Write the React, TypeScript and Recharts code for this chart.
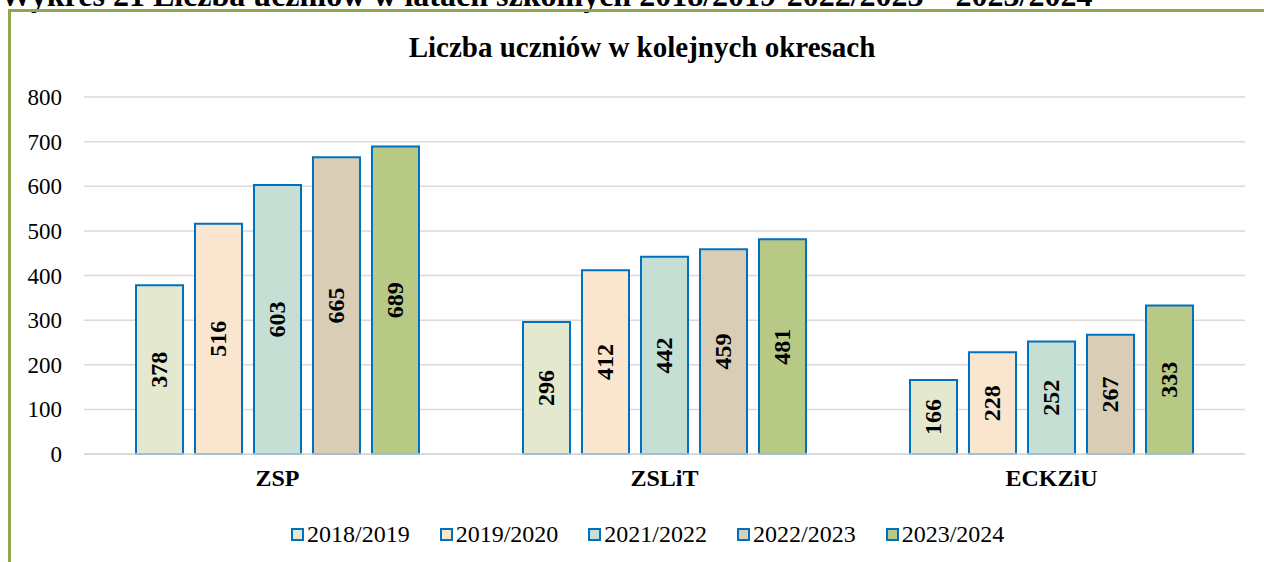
import React from 'react';
import { BarChart, Bar, XAxis, YAxis, CartesianGrid, Legend, LabelList } from 'recharts';

const schools = ['ZSP', 'ZSLiT', 'ECKZiU'];
const years = ['2018/2019', '2019/2020', '2021/2022', '2022/2023', '2023/2024'];
const students2018 = [378, 296, 166];
const students2019 = [516, 412, 228];
const students2021 = [603, 442, 252];
const students2022 = [665, 459, 267];
const students2023 = [689, 481, 333];
const yTicks = [0, 100, 200, 300, 400, 500, 600, 700, 800];

const seriesValues = [students2018, students2019, students2021, students2022, students2023];
const fills = ['#E3E8CF', '#FAE5CF', '#C5DFD5', '#DACDB6', '#B8C985'];
const stroke = '#0070C0';
const serif = 'Liberation Serif';

const data = schools.map((name, i) => {
  const row: Record<string, string | number> = { name };
  years.forEach((y, k) => {
    row[y] = seriesValues[k][i];
  });
  return row;
});

const RotatedLabel = (props: any) => {
  const { x, y, width, height, value } = props;
  const cx = x + width / 2;
  const cy = y + height / 2;
  return (
    <text
      x={cx}
      y={cy}
      transform={`rotate(-90 ${cx} ${cy})`}
      textAnchor="middle"
      dominantBaseline="central"
      style={{ fontFamily: serif, fontWeight: 'bold', fontSize: 24 }}
      fill="#000"
    >
      {value}
    </text>
  );
};

const XTick = (props: any) => {
  const { x, y, payload } = props;
  return (
    <text x={x} y={y + 17} textAnchor="middle" fill="#000" style={{ fontFamily: serif, fontWeight: 'bold', fontSize: 24 }}>
      {payload.value}
    </text>
  );
};

const YTick = (props: any) => {
  const { x, y, payload } = props;
  return (
    <text x={x} y={y + 8} textAnchor="end" fill="#000" style={{ fontFamily: serif, fontSize: 23 }}>
      {payload.value}
    </text>
  );
};

const LegendContent = () => (
  <div style={{ display: 'flex', height: 30, alignItems: 'center', fontFamily: serif, fontSize: 24, color: '#000' }}>
    {years.map((y, k) => (
      <div key={y} style={{ display: 'flex', alignItems: 'center', marginRight: 30 }}>
        <span
          style={{
            display: 'inline-block',
            width: 9,
            height: 9,
            background: fills[k],
            border: `2px solid ${stroke}`,
            marginRight: 3,
          }}
        />
        <span style={{ fontFamily: serif }}>{y}</span>
      </div>
    ))}
  </div>
);

export default function App() {
  return (
    <div style={{ position: 'relative', width: 1264, height: 562, overflow: 'hidden', background: '#fff', fontFamily: serif }}>
      <style>{'body{margin:0;overflow:hidden}'}</style>
      <div
        style={{
          position: 'absolute',
          left: 0,
          top: -21,
          fontWeight: 'bold',
          fontSize: 32,
          lineHeight: '32px',
          whiteSpace: 'nowrap',
        }}
      >
        Wykres 21 Liczba uczniów w latach szkolnych 2018/2019-2022/2023 – 2023/2024
      </div>
      <div
        style={{
          position: 'absolute',
          left: 8,
          top: 9,
          width: 1300,
          height: 600,
          borderTop: '3px solid #8EA64E',
          borderLeft: '3px solid #8EA64E',
        }}
      />
      <div
        style={{
          position: 'absolute',
          left: 0,
          width: 1284,
          top: 33,
          textAlign: 'center',
          fontWeight: 'bold',
          fontSize: 29,
          lineHeight: '29px',
        }}
      >
        Liczba uczniów w kolejnych okresach
      </div>
      <div style={{ position: 'absolute', left: 0, top: 0 }}>
        <BarChart
          width={1264}
          height={562}
          data={data}
          margin={{ top: 97, right: 19, bottom: 13, left: 0 }}
          barCategoryGap={52}
          barGap={12}
        >
          <CartesianGrid vertical={false} stroke="#D9D9D9" strokeWidth={1.5} />
          <XAxis
            dataKey="name"
            height={65}
            tickLine={false}
            tickSize={0}
            tickMargin={15}
            axisLine={{ stroke: '#D9D9D9', strokeWidth: 1.5 }}
            tick={<XTick />}
          />
          <YAxis
            width={84}
            domain={[0, 800]}
            ticks={yTicks}
            interval={0}
            axisLine={false}
            tickLine={false}
            tickSize={0}
            tickMargin={22}
            tick={<YTick />}
          />
          <Legend
            verticalAlign="bottom"
            content={<LegendContent />}
            wrapperStyle={{ left: 291, width: 800 }}
          />
          {years.map((y, k) => (
            <Bar
              key={y}
              dataKey={y}
              fill={fills[k]}
              stroke={stroke}
              strokeWidth={2}
              isAnimationActive={false}
            >
              <LabelList dataKey={y} content={<RotatedLabel />} />
            </Bar>
          ))}
        </BarChart>
      </div>
    </div>
  );
}
